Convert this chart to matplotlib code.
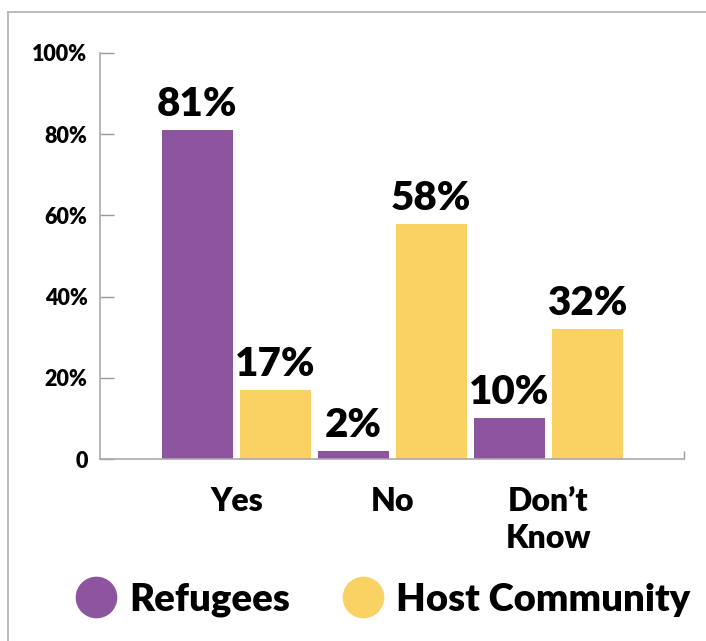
import matplotlib.pyplot as plt
from matplotlib.lines import Line2D
import numpy as np

plt.rcParams['font.family'] = ['Lato', 'DejaVu Sans']
plt.rcParams['font.weight'] = 'heavy'

categories = ['Yes', 'No', 'Don\u2019t\nKnow']
refugees = [81, 2, 10]
host = [17, 58, 32]
series_names = ['Refugees', 'Host Community']
colors = ['#8E559F', '#FAD263']
yticks = [0, 20, 40, 60, 80, 100]
ytick_labels = ['0', '20%', '40%', '60%', '80%', '100%']

fig = plt.figure(figsize=(7.06, 6.41), dpi=100)
ax = fig.add_axes([100 / 706, 182 / 641, 584 / 706, 406 / 641])

x = np.arange(len(categories))
w = 0.455
off = 0.25
b1 = ax.bar(x - off, refugees, w, color=colors[0])
b2 = ax.bar(x + off, host, w, color=colors[1])
for bars, vals in [(b1, refugees), (b2, host)]:
    ax.bar_label(bars, labels=[f'{v}%' for v in vals], padding=5,
                 fontsize=29, fontweight='heavy', color='black')

ax.set_xlim(-0.875, 2.87)
ax.set_ylim(0, 100)
ax.set_yticks(yticks)
ax.set_yticklabels(ytick_labels, fontsize=15.5, fontweight='heavy')
ax.set_xticks(x)
ax.set_xticklabels(categories, fontsize=23, fontweight='heavy', linespacing=1.35)
ax.tick_params(axis='x', length=0, pad=20)
ax.tick_params(axis='y', direction='in', length=10, width=1, color='#999999', pad=9)
ax.set_xticks([2.87], minor=True)
ax.tick_params(axis='x', which='minor', direction='in', length=6, width=1, color='#999999')

for s in ['top', 'right']:
    ax.spines[s].set_visible(False)
for s in ['left', 'bottom']:
    ax.spines[s].set_color('#aaaaaa')
    ax.spines[s].set_linewidth(1.2)

# outer frame lines (top and left only)
fig.add_artist(Line2D([8 / 706, 1], [1 - 12 / 641, 1 - 12 / 641], color='#b5b5b5', lw=1.3))
fig.add_artist(Line2D([8 / 706, 8 / 706], [0, 1 - 12 / 641], color='#b5b5b5', lw=1.3))

handles = [Line2D([], [], marker='o', linestyle='', markersize=29, color=c) for c in colors]
fig.legend(handles, series_names, loc='center', bbox_to_anchor=(0.543, 0.064), ncol=2,
           frameon=False, prop={'size': 27.5, 'weight': 'heavy'},
           handletextpad=0.35, columnspacing=1.37, handlelength=1.05)

fig.savefig('out.png', dpi=100)
